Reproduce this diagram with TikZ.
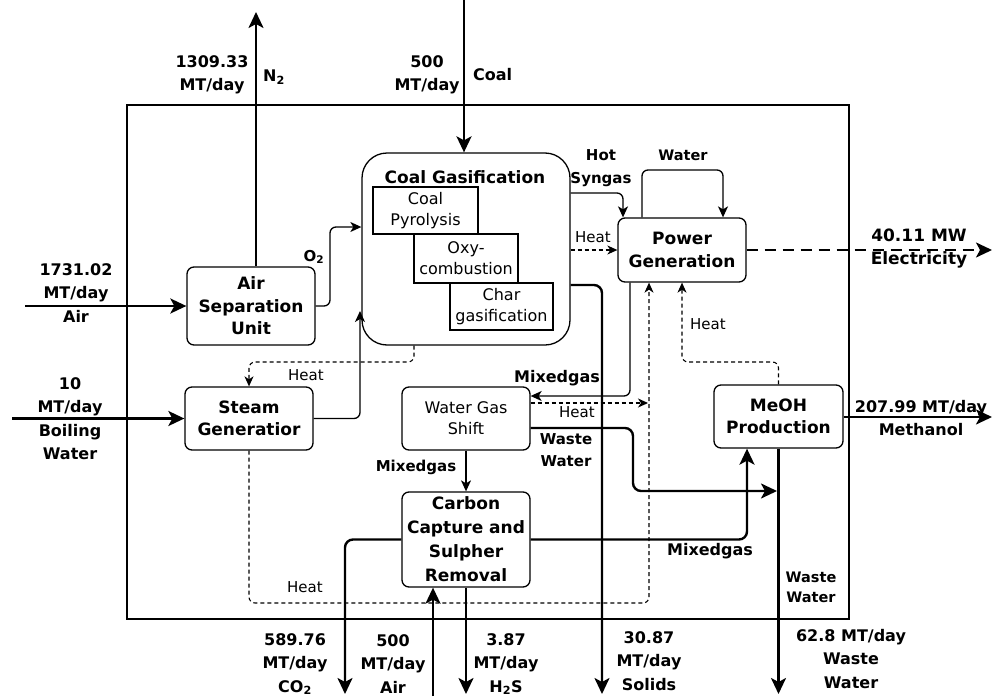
\documentclass[tikz,border=0pt]{standalone}
\usepackage{fontspec}
\setmainfont{DejaVu Sans}
\usetikzlibrary{arrows.meta}
\newcommand{\fsz}[2]{\fontsize{#1}{#2}\selectfont}
\begin{document}
\begin{tikzpicture}[x=1pt,y=-1pt,
  box/.style={draw,line width=1.3pt,rounded corners=7pt,minimum width=128pt,minimum height=63pt,align=center,inner sep=0pt,font=\bfseries\fsz{17}{22.5}},
  subbox/.style={draw,line width=1.2pt,align=center,inner sep=0pt,font=\fsz{16}{21}},
  lbl/.style={align=center,inner sep=0pt,font=\bfseries\fsz{16}{23.5}},
  slbl/.style={align=center,inner sep=0pt,font=\fsz{15}{18}},
  mlbl/.style={align=center,inner sep=0pt,font=\bfseries\fsz{15}{22}},
  tflow/.style={line width=2.4pt,rounded corners=8pt,-{Stealth[length=16pt,width=15pt,inset=4pt]}},
  flow/.style={line width=1.3pt,rounded corners=6pt,-{Stealth[length=11pt,width=10pt,inset=3pt]}},
  hflow/.style={line width=1.1pt,dash pattern=on 4pt off 3pt,rounded corners=6pt,-{Stealth[length=10pt,width=9pt,inset=3pt]}},
]
\useasboundingbox (0,0) rectangle (993,696);
% system boundary
\draw[line width=1.3pt] (127,105) rectangle (849,619);

% units
\node[box,minimum height=78pt] (asu) at (251,306) {Air\\Separation\\Unit};
\node[box,minimum width=208pt,minimum height=192pt,rounded corners=25pt] (gas) at (466,249) {};
\node[inner sep=0pt,font=\bfseries\fsz{17}{22}] (gastitle) at (465,177) {Coal Gasification};
\node[subbox,minimum width=105pt,minimum height=47pt] (pyr) at (425.5,210.5) {Coal\\Pyrolysis};
\node[subbox,minimum width=104pt,minimum height=49pt] (oxy) at (466,258.5) {Oxy-\\combustion};
\node[subbox,minimum width=103pt,minimum height=47pt] (char) at (501.5,306.5) {Char\\gasification};
\node[box,minimum height=64pt] (pow) at (682,250) {Power\\Generation};
\node[box] (steam) at (249,418.5) {Steam\\Generatior};
\node[box,font=\fsz{16}{21}] (wgs) at (466,418.5) {Water Gas\\Shift};
\node[box,minimum height=95pt,font=\bfseries\fsz{17}{24}] (cc) at (466,539.5) {Carbon\\Capture and\\Sulpher\\Removal};
\node[box,minimum width=129pt] (meoh) at (778.5,416.5) {MeOH\\Production};

% free ends
\coordinate (n2end) at (256,12);
\coordinate (coalstart) at (464,0);
\coordinate (airstart) at (25,306);
\coordinate (bwstart) at (12,418.5);
\coordinate (elecend) at (992,250);
\coordinate (methend) at (992,417);
\coordinate (solidsend) at (602,694);
\coordinate (wwend) at (778.5,694);
\coordinate (co2end) at (345,694);
\coordinate (airccstart) at (433,696);
\coordinate (h2send) at (466,694);

% external flows
\draw[tflow] (asu.north -| n2end) -- (n2end);
\draw[tflow] (coalstart) -- (coalstart |- gas.north);
\draw[tflow] (airstart) -- (asu.west);
\draw[tflow] (bwstart) -- (steam.west);
\draw[line width=2.2pt,dash pattern=on 11pt off 7pt,-{Stealth[length=16pt,width=15pt,inset=4pt]}] (pow.east) -- (elecend);
\draw[tflow] (meoh.east |- methend) -- (methend);
\draw[tflow] (gas.east |- 0,285) -- (602,285) -- (solidsend);
\draw[tflow] (meoh.south) -- (wwend);
\draw[tflow] (cc.west) -- (345,539.5) -- (co2end);
\draw[tflow] (airccstart) -- (airccstart |- cc.south);
\draw[tflow] (cc.south) -- (h2send);

% internal flows
\draw[flow] (asu.east) -- (330,306) -- (330,227) -- (gas.west |- 0,227);
\draw[flow] (steam.east) -- (360,418.5) -- (360,311);
\draw[hflow] (gas.south -| 414,0) -- (414,362) -- (249,362) -- (steam.north);
\draw[flow] (gas.east |- 0,193) -- (623,193) -- (pow.north -| 623,0);
\draw[hflow] (gas.east |- pow.west) -- (pow.west);
\draw[flow] (pow.north -| 642,0) -- (642,170) -- (723,170) -- (pow.north -| 723,0);
\draw[flow] (pow.south -| 630,0) -- (630,396) -- (wgs.east |- 0,396);
\draw[hflow] (wgs.east |- 0,403) -- (648,403);
\draw[hflow] (steam.south) -- (249,603) -- (649,603) -- (pow.south -| 649,0);
\draw[hflow] (meoh.north) -- (778.5,362) -- (682,362) -- (pow.south -| 682,0);
\draw[flow] (wgs.south) -- (cc.north);
\draw[tflow] (wgs.east |- 0,428) -- (633,428) -- (633,491) -- (777,491);
\draw[tflow] (cc.east) -- (747,539.5) -- (meoh.south -| 747,0);

% labels
\node[lbl] (ln2a) at (212,75) {1309.33\\MT/day};
\node[lbl,anchor=west] (ln2b) at (263,77) {N\textsubscript{2}};
\node[lbl] (lcoala) at (427,75) {500\\MT/day};
\node[lbl,anchor=west] (lcoalb) at (473,75) {Coal};
\node[lbl] (lair) at (76,293) {1731.02\\MT/day\\Air};
\node[mlbl] (lo2) at (314,257) {O\textsubscript{2}};
\node[lbl] (lbw) at (70,418.5) {10\\MT/day\\Boiling\\Water};
\node[slbl] (lh1) at (306,375) {Heat};
\node[mlbl,font=\bfseries\fsz{15}{23}] (lhot) at (601,168.5) {Hot\\Syngas};
\node[slbl] (lh2) at (593,237) {Heat};
\node[mlbl,font=\bfseries\fsz{14.5}{20}] (lwater) at (683,155) {Water};
\node[lbl,font=\bfseries\fsz{17}{23}] (lelec) at (919,248.5) {40.11 MW\\Electricity};
\node[slbl] (lh3) at (708,324) {Heat};
\node[lbl] (lmix1) at (557,378) {Mixedgas};
\node[slbl] (lh4) at (577,412) {Heat};
\node[mlbl] (lww1) at (566,450) {Waste\\Water};
\node[mlbl] (lmix2) at (416,467) {Mixedgas};
\node[lbl] (lmix3) at (710,551) {Mixedgas};
\node[lbl] (lmeth) at (921,418) {207.99 MT/day\\Methanol};
\node[mlbl,font=\bfseries\fsz{14.5}{20}] (lww2) at (811,587) {Waste\\Water};
\node[slbl] (lh5) at (305,587) {Heat};
\node[lbl] (lco2) at (295,664) {589.76\\MT/day\\CO\textsubscript{2}};
\node[lbl] (laircc) at (393,664) {500\\MT/day\\Air};
\node[lbl] (lh2s) at (506,664) {3.87\\MT/day\\H\textsubscript{2}S};
\node[lbl] (lsol) at (649,661) {30.87\\MT/day\\Solids};
\node[lbl] (lww3) at (851,659) {62.8 MT/day\\Waste\\Water};
\end{tikzpicture}
\end{document}
